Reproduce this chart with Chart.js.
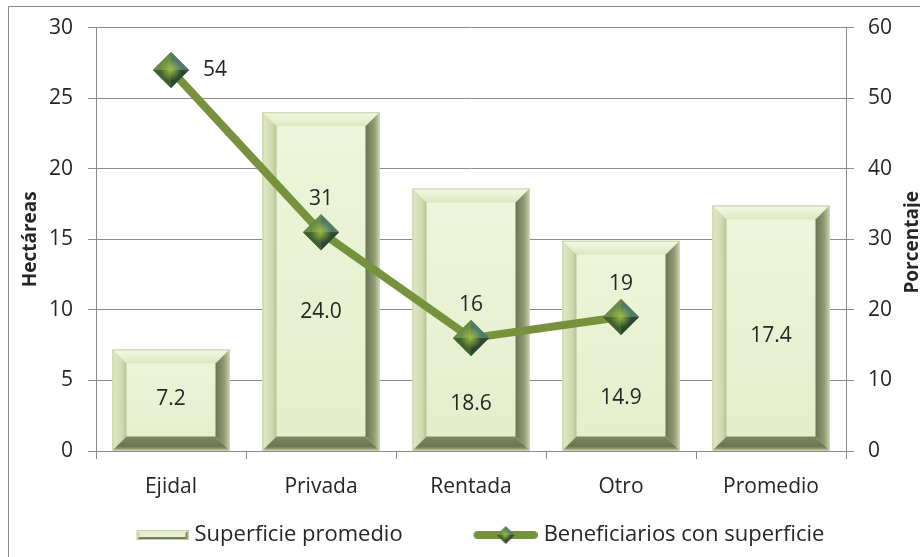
<!DOCTYPE html>
<html>
<head>
<meta charset="utf-8">
<script src="https://cdn.jsdelivr.net/npm/chart.js@4.4.1/dist/chart.umd.min.js"></script>
<style>
  html, body { margin: 0; padding: 0; background: #fff; }
  canvas { display: block; }
</style>
</head>
<body>
<canvas id="chart" width="920" height="557"></canvas>
<script>
// Data
const categories = ['Ejidal', 'Privada', 'Rentada', 'Otro', 'Promedio'];
const superficie = [7.2, 24.0, 18.6, 14.9, 17.4];      // hectáreas (left axis)
const beneficiarios = [54, 31, 16, 19, null];           // porcentaje (right axis)
const hectareaTicks = { min: 0, max: 30, step: 5 };
const porcentajeTicks = { min: 0, max: 60, step: 10 };

const TEXT = '#262626';
const GRID = '#8c8c8c';
const LINE_GREEN = '#76923c';
Chart.defaults.font.family = '"Open Sans", sans-serif';
Chart.defaults.color = TEXT;

// diamond with four shaded faces (pyramid look)
function drawDiamond(ctx, cx, cy, r) {
    const top = [cx, cy - r], right = [cx + r, cy], bottom = [cx, cy + r], left = [cx - r, cy];
    const faces = [
        [left, top, '#6a8c45'],
        [top, right, '#4f7a6c'],
        [right, bottom, '#2c4734'],
        [bottom, left, '#41602f']
    ];
    faces.forEach(([a, b, c]) => {
        ctx.beginPath();
        ctx.moveTo(a[0], a[1]);
        ctx.lineTo(b[0], b[1]);
        ctx.lineTo(cx, cy);
        ctx.closePath();
        ctx.fillStyle = c;
        ctx.fill();
    });
    const g = ctx.createRadialGradient(cx, cy, 0, cx, cy, r * 0.6);
    g.addColorStop(0, 'rgba(170, 200, 70, 0.85)');
    g.addColorStop(1, 'rgba(170, 200, 70, 0)');
    ctx.beginPath();
    ctx.moveTo(top[0], top[1]);
    ctx.lineTo(right[0], right[1]);
    ctx.lineTo(bottom[0], bottom[1]);
    ctx.lineTo(left[0], left[1]);
    ctx.closePath();
    ctx.fillStyle = g;
    ctx.fill();
}

// beveled bar (Excel "cool slant" style)
function drawBevel(ctx, l, t, r, b, d) {
    const face = ctx.createLinearGradient(0, t, 0, b);
    face.addColorStop(0, '#eef5db');
    face.addColorStop(1, '#e4eecb');
    ctx.fillStyle = face;
    ctx.fillRect(l, t, r - l, b - t);

    const poly = (pts, fill) => {
        ctx.beginPath();
        ctx.moveTo(pts[0][0], pts[0][1]);
        pts.slice(1).forEach(p => ctx.lineTo(p[0], p[1]));
        ctx.closePath();
        ctx.fillStyle = fill;
        ctx.fill();
    };
    let g = ctx.createLinearGradient(0, t, 0, t + d);
    g.addColorStop(0, '#f5f8e6');
    g.addColorStop(1, '#dde7c2');
    poly([[l, t], [r, t], [r - d, t + d], [l + d, t + d]], g);

    g = ctx.createLinearGradient(l, 0, l + d, 0);
    g.addColorStop(0, '#e0e9c4');
    g.addColorStop(0.7, '#cfd9ae');
    g.addColorStop(1, '#b5c196');
    poly([[l, t], [l + d, t + d], [l + d, b - d], [l, b]], g);

    g = ctx.createLinearGradient(r - d, 0, r, 0);
    g.addColorStop(0, '#6c7553');
    g.addColorStop(0.6, '#8f9974');
    g.addColorStop(1, '#c6cea9');
    poly([[r, t], [r, b], [r - d, b - d], [r - d, t + d]], g);

    g = ctx.createLinearGradient(0, b - d, 0, b);
    g.addColorStop(0, '#7e8860');
    g.addColorStop(0.7, '#6b7450');
    g.addColorStop(1, '#adb68f');
    poly([[l, b], [r, b], [r - d, b - d], [l + d, b - d]], g);

    ctx.strokeStyle = '#c4cda6';
    ctx.lineWidth = 1;
    ctx.strokeRect(l + 0.5, t + 0.5, r - l - 1, b - t - 1);
}

// legend swatches (canvas images used as point styles); a little wider
// than the legend box so the swatch sits close to its text
const SWATCH_W = 120;
const IMG_W = SWATCH_W + 10;
function makeBarSwatch() {
    const c = document.createElement('canvas');
    c.width = IMG_W; c.height = 12;
    drawBevel(c.getContext('2d'), IMG_W - 52, 1, IMG_W, 11, 3);
    return c;
}
function makeLineSwatch() {
    const c = document.createElement('canvas');
    c.width = IMG_W; c.height = 20;
    const ctx = c.getContext('2d');
    ctx.strokeStyle = LINE_GREEN;
    ctx.lineWidth = 8;
    ctx.lineCap = 'round';
    ctx.beginPath();
    ctx.moveTo(IMG_W - 60, 10);
    ctx.lineTo(IMG_W - 4, 10);
    ctx.stroke();
    drawDiamond(ctx, IMG_W - 32, 10, 9);
    return c;
}
const swatches = [makeBarSwatch(), makeLineSwatch()];

const bevelBars = {
    id: 'bevelBars',
    afterDatasetDraw(chart, args) {
        if (args.meta.type !== 'bar') return;
        const ctx = chart.ctx;
        ctx.save();
        args.meta.data.forEach(bar => {
            const { x, y, base, width } = bar.getProps(['x', 'y', 'base', 'width'], true);
            const t = Math.min(y, base), b = Math.max(y, base);
            const d = Math.min(14, width / 4, (b - t) / 3);
            drawBevel(ctx, x - width / 2, t, x + width / 2, b, d);
        });
        ctx.restore();
    }
};

const diamondPoints = {
    id: 'diamondPoints',
    afterDatasetDraw(chart, args) {
        if (args.meta.type !== 'line') return;
        const ctx = chart.ctx;
        ctx.save();
        args.meta.data.forEach((pt, i) => {
            if (beneficiarios[i] == null) return;
            drawDiamond(ctx, pt.x, pt.y, pt.options.radius);
        });
        ctx.restore();
    }
};

const valueLabels = {
    id: 'valueLabels',
    afterDatasetsDraw(chart, args, opts) {
        const ctx = chart.ctx;
        ctx.save();
        ctx.fillStyle = TEXT;
        ctx.font = '21px "Open Sans", sans-serif';
        ctx.textBaseline = 'middle';
        const yScale = chart.scales.y;
        chart.getDatasetMeta(1).data.forEach((bar, i) => {
            const v = superficie[i];
            ctx.textAlign = 'center';
            ctx.fillText(v.toFixed(1), bar.x, yScale.getPixelForValue(v * opts.barLabelLevel[i]));
        });
        chart.getDatasetMeta(0).data.forEach((pt, i) => {
            const v = beneficiarios[i];
            if (v == null) return;
            if (opts.lineLabelSide[i] === 'right') {
                ctx.textAlign = 'left';
                ctx.fillText(String(v), pt.x + 32, pt.y);
            } else {
                ctx.textAlign = 'center';
                ctx.fillText(String(v), pt.x, pt.y - 33);
            }
        });
        ctx.restore();
    }
};

// the reference legend row sits a bit left of the canvas centre
const legendShift = {
    id: 'legendShift',
    afterLayout(chart, args, opts) {
        if (!chart.legend) return;
        chart.legend.left += opts.dx;
        chart.legend.right += opts.dx;
    }
};

const frameAndTitle = {
    id: 'frameAndTitle',
    afterDraw(chart) {
        const ctx = chart.ctx;
        const s = chart.scales.y1;
        ctx.save();
        ctx.fillStyle = TEXT;
        ctx.font = 'bold 19px "Open Sans", sans-serif';
        ctx.textAlign = 'center';
        ctx.textBaseline = 'alphabetic';
        ctx.translate(s.right - 2, (s.top + s.bottom) / 2 + 3);
        ctx.rotate(-Math.PI / 2);
        ctx.fillText('Porcentaje', 0, 0);
        ctx.restore();

        ctx.save();
        ctx.strokeStyle = '#8a8a8a';
        ctx.lineWidth = 1;
        ctx.strokeRect(8.5, 6.5, chart.width + 20, chart.height + 20);
        ctx.restore();
    }
};

new Chart(document.getElementById('chart'), {
    data: {
        labels: categories,
        datasets: [
            {
                type: 'line',
                label: 'Beneficiarios con superficie',
                data: beneficiarios,
                yAxisID: 'y1',
                order: 1,
                borderColor: LINE_GREEN,
                borderWidth: 8,
                borderJoinStyle: 'round',
                borderCapStyle: 'round',
                pointStyle: 'rectRot',
                pointRadius: 18,
                pointBackgroundColor: '#4f6e34',
                pointBorderWidth: 0,
                spanGaps: false,
                tension: 0
            },
            {
                type: 'bar',
                label: 'Superficie promedio',
                data: superficie,
                yAxisID: 'y',
                order: 2,
                backgroundColor: '#e6f0cf',
                borderWidth: 0,
                barPercentage: 0.78,
                categoryPercentage: 1
            }
        ]
    },
    options: {
        responsive: false,
        animation: false,
        devicePixelRatio: 1,
        events: [],
        layout: { padding: { top: 24, right: 0, bottom: 1, left: 0 } },
        scales: {
            x: {
                grid: {
                    display: true,
                    drawOnChartArea: false,
                    offset: true,
                    color: GRID,
                    tickLength: 8
                },
                border: { color: GRID },
                ticks: { font: { size: 21 }, color: TEXT, padding: 15 },
                afterFit(scale) { scale.height = 63; }
            },
            y: {
                position: 'left',
                min: hectareaTicks.min,
                max: hectareaTicks.max,
                ticks: { stepSize: hectareaTicks.step, font: { size: 21 }, color: TEXT, padding: 15 },
                grid: { color: GRID, tickLength: 8 },
                border: { color: GRID },
                title: {
                    display: true,
                    text: 'Hectáreas',
                    color: TEXT,
                    font: { size: 19, weight: 'bold' },
                    padding: { top: 19, bottom: 0 }
                },
                afterFit(scale) { scale.width = 96; }
            },
            y1: {
                position: 'right',
                min: porcentajeTicks.min,
                max: porcentajeTicks.max,
                ticks: { stepSize: porcentajeTicks.step, font: { size: 21 }, color: TEXT, padding: 14 },
                grid: { drawOnChartArea: false, color: GRID, tickLength: 8 },
                border: { color: GRID },
                afterFit(scale) { scale.width = 74; }
            }
        },
        plugins: {
            tooltip: { enabled: false },
            legend: {
                position: 'bottom',
                reverse: true,
                labels: {
                    usePointStyle: true,
                    pointStyleWidth: SWATCH_W,
                    padding: 10,
                    color: TEXT,
                    font: { size: 22 },
                    generateLabels(chart) {
                        return chart.data.datasets.map((ds, i) => ({
                            text: ds.label,
                            datasetIndex: i,
                            pointStyle: swatches[ds.type === 'bar' ? 0 : 1],
                            fillStyle: 'transparent',
                            strokeStyle: 'transparent',
                            lineWidth: 0,
                            hidden: false,
                            fontColor: TEXT
                        }));
                    }
                }
            },
            legendShift: { dx: -16 },
            valueLabels: {
                barLabelLevel: [0.51, 0.41, 0.18, 0.25, 0.47],
                lineLabelSide: ['right', 'above', 'above', 'above', null]
            }
        }
    },
    plugins: [bevelBars, diamondPoints, valueLabels, legendShift, frameAndTitle]
});
</script>
</body>
</html>
